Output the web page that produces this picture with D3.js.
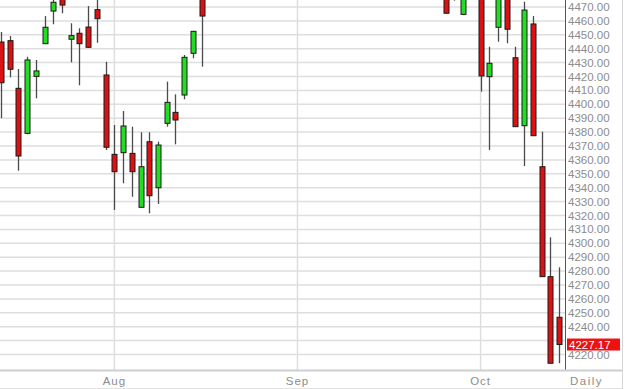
<!DOCTYPE html>
<html>
<head>
    <title>Daily Candles</title>
    <script src="https://d3js.org/d3.v7.min.js"></script>
    <style>
        body { margin: 0; background: #fff; }
        .axis-text {
            font-family: "Liberation Sans", Arial, sans-serif;
            font-size: 11.5px;
            fill: #8c8c8c;
        }
    </style>
</head>
<body>
    <svg width="629" height="389"></svg>
    <script>
        // trading day index (0 = first visible session), OHLC
        const days   = d3.range(0, 65);
        const opens  = [4444.8, 4445.8, 4411.5, 4379.1, 4420.1, 4443.6, 4467.1, 4476.0, 4446.8, 4451.1,
                        4455.6, 4468.1, 4421.1, 4364.0, 4365.2, 4364.7, 4325.9, 4373.1, 4340.0, 4386.3,
                        4394.2, 4406.7, 4436.7, 4480.0,
                        null, null, null, null, null, null, null, null, null, null, null, null, null, null,
                        null, null, null, null, null, null, null, null, null, null, null, null, null,
                        4490.0, 4480.0, 4464.7, 4495.0, 4490.0, 4419.9, 4455.4, 4478.0, 4433.5, 4384.6,
                        4457.8, 4355.1, 4276.0, 4246.8];
        const highs  = [4452.0, 4449.1, 4425.4, 4434.2, 4431.9, 4463.5, 4476.0, 4478.0, 4458.3, 4454.7,
                        4470.7, 4476.0, 4430.6, 4385.1, 4395.2, 4383.9, 4379.9, 4379.9, 4373.1, 4416.3,
                        4407.2, 4435.5, 4452.8, 4485.0,
                        null, null, null, null, null, null, null, null, null, null, null, null, null, null,
                        null, null, null, null, null, null, null, null, null, null, null, null, null,
                        4495.0, 4485.0, 4485.0, 4500.0, 4500.0, 4441.4, 4485.0, 4482.0, 4441.4, 4473.8,
                        4463.5, 4380.3, 4304.3, 4282.7];
        const lows   = [4390.0, 4419.4, 4352.2, 4378.4, 4404.3, 4443.6, 4457.6, 4465.5, 4430.2, 4413.7,
                        4440.5, 4444.3, 4367.1, 4324.0, 4343.2, 4333.5, 4325.4, 4321.6, 4328.3, 4383.9,
                        4371.2, 4403.6, 4433.1, 4427.1,
                        null, null, null, null, null, null, null, null, null, null, null, null, null, null,
                        null, null, null, null, null, null, null, null, null, null, null, null, null,
                        4465.5, 4474.6, 4464.2, 4480.0, 4409.1, 4367.1, 4445.0, 4443.9, 4383.9, 4355.6,
                        4377.4, 4276.0, 4213.7, 4213.7];
        const closes = [4415.5, 4425.2, 4362.8, 4431.9, 4424.0, 4455.4, 4473.4, 4471.4, 4449.4, 4443.6,
                        4441.0, 4461.6, 4369.1, 4351.5, 4384.4, 4351.5, 4355.1, 4334.2, 4370.7, 4401.4,
                        4388.7, 4433.8, 4452.5, 4463.5,
                        null, null, null, null, null, null, null, null, null, null, null, null, null, null,
                        null, null, null, null, null, null, null, null, null, null, null, null, null,
                        4465.5, 4476.0, 4485.0, 4485.0, 4420.4, 4429.5, 4480.0, 4454.0, 4383.9, 4467.8,
                        4377.4, 4276.0, 4213.7, 4227.17];

        const monthTicks  = [13, 34, 55];
        const monthLabels = ["Aug", "Sep", "Oct"];
        const priceTicks  = d3.range(4220, 4471, 10);
        const lastPrice   = 4227.17;

        const candles = days.map((d, i) => ({
            day: d, open: opens[i], high: highs[i], low: lows[i], close: closes[i]
        })).filter(d => d.open !== null);

        const plotW = 565, plotH = 370;
        const svg = d3.select("svg");

        const x = d3.scaleLinear().domain([-0.115, 64.68]).range([0, plotW]);
        const y = d3.scaleLinear().domain([4475.04, 4208.85]).range([0, plotH]);

        svg.append("defs").append("clipPath").attr("id", "plot-clip")
           .append("rect").attr("width", plotW).attr("height", plotH);

        // horizontal grid
        svg.append("g")
           .selectAll("line")
           .data(priceTicks)
           .enter().append("line")
           .attr("x1", 0).attr("x2", plotW)
           .attr("y1", d => y(d)).attr("y2", d => y(d))
           .attr("stroke", "#dedede")
           .attr("stroke-width", 1.5);

        // month grid
        svg.append("g")
           .selectAll("line")
           .data(monthTicks)
           .enter().append("line")
           .attr("x1", d => x(d)).attr("x2", d => x(d))
           .attr("y1", 0).attr("y2", plotH)
           .attr("stroke", "#dedede")
           .attr("stroke-width", 1.5);

        const plot = svg.append("g").attr("clip-path", "url(#plot-clip)");

        // wicks
        plot.selectAll(".wick")
            .data(candles)
            .enter().append("line")
            .attr("class", "wick")
            .attr("x1", d => Math.round(x(d.day)) + 0.5)
            .attr("x2", d => Math.round(x(d.day)) + 0.5)
            .attr("y1", d => y(d.high))
            .attr("y2", d => y(d.low))
            .attr("stroke", "#4a4a4a")
            .attr("stroke-width", 1.3);

        // bodies
        plot.selectAll(".body")
            .data(candles)
            .enter().append("rect")
            .attr("class", "body")
            .attr("x", d => Math.round(x(d.day)) - 2)
            .attr("width", 5)
            .attr("y", d => y(Math.max(d.open, d.close)))
            .attr("height", d => Math.max(1, y(Math.min(d.open, d.close)) - y(Math.max(d.open, d.close))))
            .attr("fill", d => d.close >= d.open ? "#22dd22" : "#dd1111")
            .attr("stroke", "#1a1a1a")
            .attr("stroke-width", 1);

        // frame lines
        svg.append("line")
           .attr("x1", plotW + 0.5).attr("x2", plotW + 0.5)
           .attr("y1", 0).attr("y2", plotH)
           .attr("stroke", "#555").attr("stroke-width", 1);
        svg.append("line")
           .attr("x1", 0).attr("x2", 622)
           .attr("y1", plotH + 0.5).attr("y2", plotH + 0.5)
           .attr("stroke", "#cfcfcf").attr("stroke-width", 2);
        svg.append("line")
           .attr("x1", 622.5).attr("x2", 622.5)
           .attr("y1", 0).attr("y2", 389)
           .attr("stroke", "#d6d6d6").attr("stroke-width", 1);
        svg.append("line")
           .attr("x1", 0).attr("x2", 622)
           .attr("y1", 388.5).attr("y2", 388.5)
           .attr("stroke", "#e2e2e2").attr("stroke-width", 1);

        // price labels (the one hidden under the last-price tag is left out)
        svg.append("g")
           .selectAll("text")
           .data(priceTicks.filter(d => Math.abs(d - lastPrice) > 5))
           .enter().append("text")
           .attr("class", "axis-text")
           .attr("x", 568)
           .attr("y", d => y(d))
           .attr("dy", "0.35em")
           .text(d => d.toFixed(2));

        // last price tag
        svg.append("rect")
           .attr("x", 567).attr("y", y(lastPrice) - 6)
           .attr("width", 53).attr("height", 12)
           .attr("fill", "#ee1111");
        svg.append("text")
           .attr("class", "axis-text")
           .attr("x", 569)
           .attr("y", y(lastPrice))
           .attr("dy", "0.35em")
           .style("fill", "#fff")
           .text(lastPrice.toFixed(2));

        // month labels
        svg.append("g")
           .selectAll("text")
           .data(monthTicks)
           .enter().append("text")
           .attr("class", "axis-text")
           .attr("x", d => x(d))
           .attr("y", 381)
           .attr("dy", "0.35em")
           .attr("text-anchor", "middle")
           .style("letter-spacing", "1px")
           .text((d, i) => monthLabels[i]);

        svg.append("text")
           .attr("class", "axis-text")
           .attr("x", 570)
           .attr("y", 381)
           .attr("dy", "0.35em")
           .style("letter-spacing", "1.5px")
           .text("Daily");
    </script>
</body>
</html>
